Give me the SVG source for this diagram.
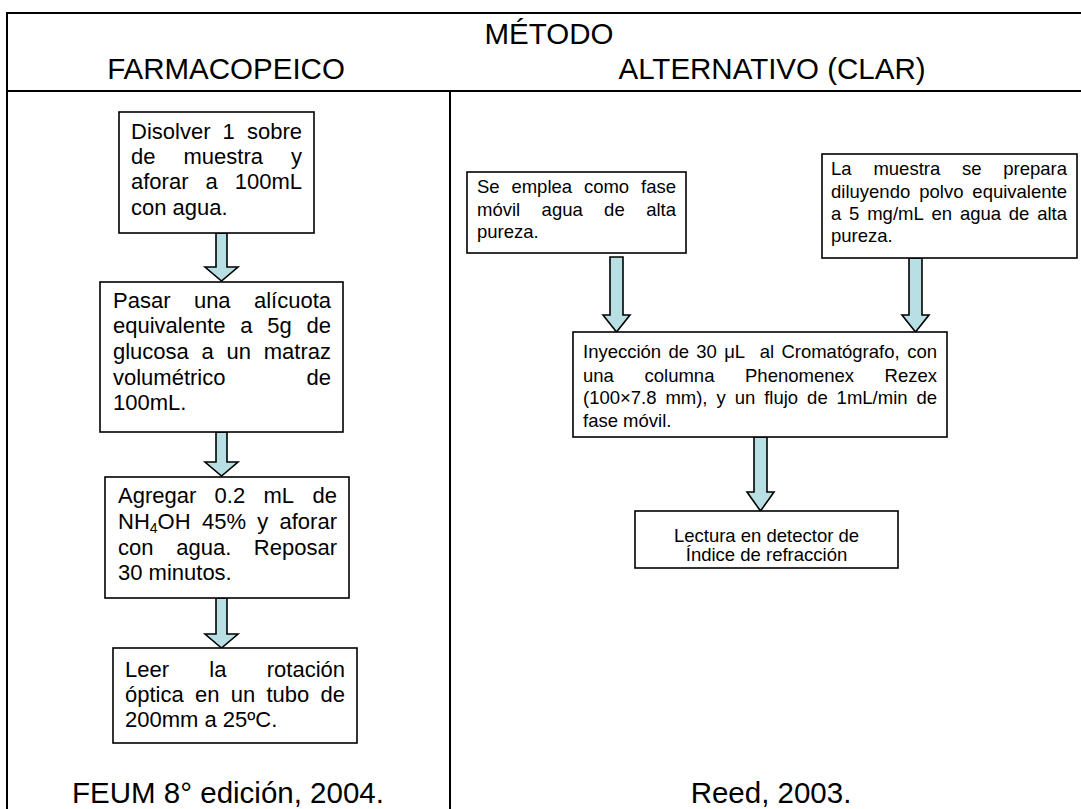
<svg xmlns="http://www.w3.org/2000/svg" width="1081" height="809" viewBox="0 0 1081 809">
  <style>
    text { font-family: "Liberation Sans", Arial, sans-serif; fill: #000; }
    .hdr { font-size: 29.5px; text-anchor: middle; }
    .ref { font-size: 29.5px; text-anchor: middle; }
    .big { font-size: 22px; }
    .small { font-size: 18.5px; }
    .end { text-anchor: end; }
    .mid { text-anchor: middle; }
    .sub { font-size: 14px; }
    .box { fill: #fff; stroke: #000; stroke-width: 1.6; }
    .grid { stroke: #000; stroke-width: 2; fill: none; }
    .arrow { fill: #b8dfe3; stroke: #000; stroke-width: 1.6; stroke-linejoin: miter; }
  </style>

  <rect width="1081" height="809" fill="#fff"/>

  <!-- table frame -->
  <g id="table">
    <line class="grid" x1="7" y1="13" x2="1081" y2="13"/>
    <line class="grid" x1="7" y1="91" x2="1081" y2="91"/>
    <line class="grid" x1="7" y1="12" x2="7" y2="809"/>
    <line class="grid" x1="450" y1="91" x2="450" y2="809"/>
    <text class="hdr" x="549" y="44">MÉTODO</text>
    <text class="hdr" x="226" y="79">FARMACOPEICO</text>
    <text class="hdr" x="772" y="79">ALTERNATIVO (CLAR)</text>
    <text class="ref" x="228" y="803">FEUM 8° edición, 2004.</text>
    <text class="ref" x="771" y="803">Reed, 2003.</text>
  </g>

  <!-- connectors -->
  <g id="connectors">
    <polygon class="arrow" points="216,233 227,233 227,267 238,267 221.5,281 205,267 216,267"/>
    <polygon class="arrow" points="216,432 227,432 227,462 238,462 221.5,476 205,462 216,462"/>
    <polygon class="arrow" points="216,598 227,598 227,634 238,634 221.5,648 205,634 216,634"/>
    <polygon class="arrow" points="610,257 623,257 623,315 630,315 616.5,332 603,315 610,315"/>
    <polygon class="arrow" points="909,258 922,258 922,315 929,315 915.5,332 902,315 909,315"/>
    <polygon class="arrow" points="754,437 767,437 767,492 774,492 760.5,511 747,492 754,492"/>
  </g>

  <!-- FARMACOPEICO column -->
  <g id="step-disolver">
    <rect class="box" x="119" y="112" width="195" height="121"/>
    <text class="big" y="139"><tspan x="131">Disolver</tspan><tspan x="222.6">1</tspan><tspan class="end" x="302">sobre</tspan></text>
    <text class="big" y="164"><tspan x="131">de</tspan><tspan x="183.5">muestra</tspan><tspan class="end" x="302">y</tspan></text>
    <text class="big" y="189"><tspan x="131">aforar</tspan><tspan x="205.5">a</tspan><tspan class="end" x="302">100mL</tspan></text>
    <text class="big" x="131" y="215">con agua.</text>
  </g>

  <g id="step-alicuota">
    <rect class="box" x="100" y="282" width="243" height="150"/>
    <text class="big" y="308"><tspan x="113">Pasar</tspan><tspan x="193.9">una</tspan><tspan class="end" x="331">alícuota</tspan></text>
    <text class="big" y="333"><tspan x="113">equivalente</tspan><tspan x="240.3">a</tspan><tspan x="267.3">5g</tspan><tspan class="end" x="331">de</tspan></text>
    <text class="big" y="359"><tspan x="113">glucosa</tspan><tspan x="201.6">a</tspan><tspan x="226.6">un</tspan><tspan class="end" x="331">matraz</tspan></text>
    <text class="big" y="385"><tspan x="113">volumétrico</tspan><tspan class="end" x="331">de</tspan></text>
    <text class="big" x="113" y="410">100mL.</text>
  </g>

  <g id="step-agregar">
    <rect class="box" x="105" y="477" width="244" height="121"/>
    <text class="big" y="503"><tspan x="118">Agregar</tspan><tspan x="214.6">0.2</tspan><tspan x="263.5">mL</tspan><tspan class="end" x="337">de</tspan></text>
    <text class="big" x="118" y="529">NH</text>
    <text class="big sub" x="149.8" y="533">4</text>
    <text class="big" x="157.6" y="529">OH</text>
    <text class="big" y="529"><tspan x="202">45%</tspan><tspan x="257.2">y</tspan><tspan class="end" x="337">aforar</tspan></text>
    <text class="big" y="555"><tspan x="118">con</tspan><tspan x="176.2">agua.</tspan><tspan class="end" x="337">Reposar</tspan></text>
    <text class="big" x="118" y="580">30 minutos.</text>
  </g>

  <g id="step-leer">
    <rect class="box" x="113" y="648" width="244" height="95"/>
    <text class="big" y="677"><tspan x="125">Leer</tspan><tspan x="209.3">la</tspan><tspan class="end" x="345">rotación</tspan></text>
    <text class="big" y="702"><tspan x="125">óptica</tspan><tspan x="195">en</tspan><tspan x="230.7">un</tspan><tspan x="266.5">tubo</tspan><tspan class="end" x="345">de</tspan></text>
    <text class="big" x="125" y="727">200mm a 25ºC.</text>
  </g>

  <!-- ALTERNATIVO (CLAR) column -->
  <g id="step-fase-movil">
    <rect class="box" x="467" y="172" width="219" height="81"/>
    <text class="small" y="193"><tspan x="477">Se</tspan><tspan x="511.4">emplea</tspan><tspan x="583.9">como</tspan><tspan class="end" x="676">fase</tspan></text>
    <text class="small" y="216"><tspan x="477">móvil</tspan><tspan x="541.6">agua</tspan><tspan x="604.1">de</tspan><tspan class="end" x="676">alta</tspan></text>
    <text class="small" x="477" y="238">pureza.</text>
  </g>

  <g id="step-muestra">
    <rect class="box" x="822" y="154" width="255" height="104"/>
    <text class="small" y="175"><tspan x="831">La</tspan><tspan x="873.4">muestra</tspan><tspan x="962">se</tspan><tspan class="end" x="1067">prepara</tspan></text>
    <text class="small" y="198"><tspan x="831">diluyendo</tspan><tspan x="919.2">polvo</tspan><tspan class="end" x="1067">equivalente</tspan></text>
    <text class="small" y="220"><tspan x="831">a</tspan><tspan x="849.1">5</tspan><tspan x="867.2">mg/mL</tspan><tspan x="931.5">en</tspan><tspan x="959.9">agua</tspan><tspan x="1008.8">de</tspan><tspan class="end" x="1067">alta</tspan></text>
    <text class="small" x="831" y="242">pureza.</text>
  </g>

  <g id="step-inyeccion">
    <rect class="box" x="573" y="332" width="374" height="105"/>
    <text class="small" y="358"><tspan x="583">Inyección</tspan><tspan x="668.4">de</tspan><tspan x="696.3">30</tspan><tspan x="724.2">μL</tspan><tspan x="759.7">al</tspan><tspan x="781.4">Cromatógrafo,</tspan><tspan class="end" x="937">con</tspan></text>
    <text class="small" y="382"><tspan x="583">una</tspan><tspan x="644.5">columna</tspan><tspan x="745">Phenomenex</tspan><tspan class="end" x="937">Rezex</tspan></text>
    <text class="small" y="404"><tspan x="583">(100×7.8</tspan><tspan x="665.4">mm),</tspan><tspan x="716.5">y</tspan><tspan x="734.7">un</tspan><tspan x="764.2">flujo</tspan><tspan x="807.1">de</tspan><tspan x="836.6">1mL/min</tspan><tspan class="end" x="937">de</tspan></text>
    <text class="small" x="583" y="427">fase móvil.</text>
  </g>

  <g id="step-lectura">
    <rect class="box" x="635" y="511" width="263" height="57"/>
    <text class="small mid" x="766.5" y="542">Lectura en detector de</text>
    <text class="small mid" x="766.5" y="561">Índice de refracción</text>
  </g>
</svg>
